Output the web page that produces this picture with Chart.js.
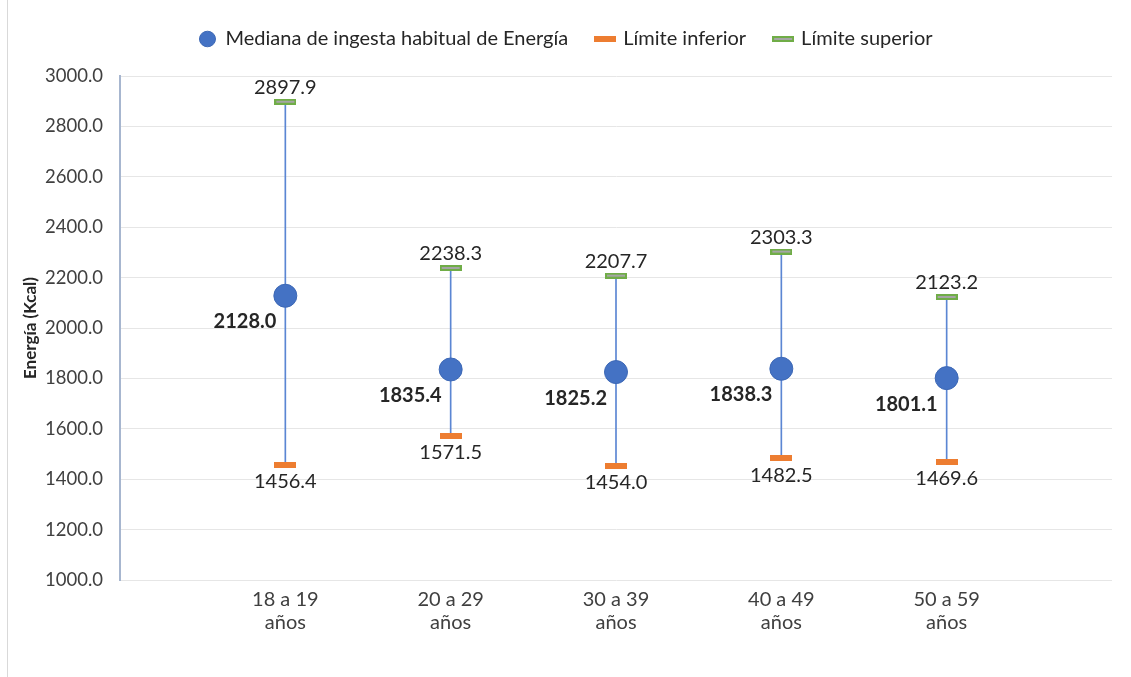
<!DOCTYPE html>
<html>
<head>
<meta charset="utf-8">
<script src="https://cdn.jsdelivr.net/npm/chart.js@4/dist/chart.umd.min.js"></script>
<style>
  html, body { margin: 0; padding: 0; background: #fff; }
  #wrap { position: relative; width: 1131px; height: 677px; }
  #edge { position: absolute; left: 7px; top: 0; width: 1px; height: 677px; background: #d9d9d9; }
</style>
</head>
<body>
<div id="wrap">
  <div id="edge"></div>
  <canvas id="energyChart" width="1131" height="677"></canvas>
</div>
<script>
// Datos
const grupos = [['18 a 19', 'años'], ['20 a 29', 'años'], ['30 a 39', 'años'], ['40 a 49', 'años'], ['50 a 59', 'años']];
const mediana = [2128.0, 1835.4, 1825.2, 1838.3, 1801.1];
const limiteInferior = [1456.4, 1571.5, 1454.0, 1482.5, 1469.6];
const limiteSuperior = [2897.9, 2238.3, 2207.7, 2303.3, 2123.2];
const ticksY = [1000, 1200, 1400, 1600, 1800, 2000, 2200, 2400, 2600, 2800, 3000];

const FONT = 'Lato, "Open Sans", sans-serif';

// etiquetas con un hueco a cada lado (el eje va de 0 a 6)
const etiquetas = [''].concat(grupos, ['']);
const pad = arr => [null].concat(arr, [null]);

// marcador de guion (rectángulo horizontal)
function guion(fill, stroke) {
    const c = document.createElement('canvas');
    c.width = 22; c.height = 6;
    const g = c.getContext('2d');
    g.fillStyle = stroke;
    g.fillRect(0, 0, 22, 6);
    g.fillStyle = fill;
    g.fillRect(2, 2, 18, 2);
    return c;
}
const guionNaranja = guion('#ED7D31', '#ED7D31');
const guionVerde = guion('#a5a5a5', '#70AD47');

// Más espacio debajo de la leyenda
const espacioLeyenda = {
    id: 'espacioLeyenda',
    beforeInit(chart) {
        const fitOrig = chart.legend.fit;
        chart.legend.fit = function () {
            fitOrig.bind(chart.legend)();
            this.height += 17;
        };
    }
};

// Plugin para las etiquetas de datos
const etiquetasDatos = {
    id: 'etiquetasDatos',
    afterDatasetsDraw(chart) {
        const ctx = chart.ctx;
        ctx.save();
        ctx.fillStyle = '#262626';
        ctx.textBaseline = 'middle';
        chart.data.datasets.forEach((ds, i) => {
            if (!ds.tipo) return;
            const meta = chart.getDatasetMeta(i);
            meta.data.forEach((pt, j) => {
                const v = ds.data[j];
                if (v == null) return;
                const txt = v.toFixed(1);
                if (ds.tipo === 'med') {
                    ctx.font = 'bold 20px ' + FONT;
                    ctx.textAlign = 'right';
                    ctx.fillText(txt, pt.x - 9, pt.y + 26);
                } else if (ds.tipo === 'inf') {
                    ctx.font = '20px ' + FONT;
                    ctx.textAlign = 'center';
                    ctx.fillText(txt, pt.x, pt.y + 17);
                } else {
                    ctx.font = '20px ' + FONT;
                    ctx.textAlign = 'center';
                    ctx.fillText(txt, pt.x, pt.y - 14);
                }
            });
        });
        ctx.restore();
    }
};

const ctx = document.getElementById('energyChart').getContext('2d');

new Chart(ctx, {
    type: 'line',
    data: {
        labels: etiquetas,
        datasets: [
            {
                label: 'Mediana de ingesta habitual de Energía',
                tipo: 'med',
                data: pad(mediana),
                showLine: false,
                pointStyle: 'circle',
                pointRadius: 11.5,
                pointBackgroundColor: '#4472C4',
                pointBorderColor: '#3d68b5',
                pointBorderWidth: 1,
                backgroundColor: '#4472C4',
                borderColor: '#4472C4',
                order: 0
            },
            {
                label: 'Límite inferior',
                tipo: 'inf',
                data: pad(limiteInferior),
                showLine: false,
                pointStyle: guionNaranja,
                backgroundColor: '#ED7D31',
                borderColor: '#ED7D31',
                order: 1
            },
            {
                label: 'Límite superior',
                tipo: 'sup',
                data: pad(limiteSuperior),
                showLine: false,
                pointStyle: guionVerde,
                backgroundColor: '#70AD47',
                borderColor: '#70AD47',
                order: 2
            },
            {
                // línea vertical entre límites
                type: 'bar',
                label: 'rango',
                data: pad(limiteInferior.map((lo, i) => [lo, limiteSuperior[i]])),
                backgroundColor: '#5b86d3',
                barThickness: 1,
                order: 3
            }
        ]
    },
    options: {
        responsive: false,
        animation: false,
        layout: { padding: { left: 20, right: 19, top: 0, bottom: 43 } },
        plugins: {
            legend: {
                position: 'top',
                labels: {
                    usePointStyle: true,
                    boxHeight: 11,
                    pointStyleWidth: 16,
                    color: '#262626',
                    font: { family: FONT, size: 20 },
                    padding: 29,
                    filter: item => item.text !== 'rango'
                }
            },
            tooltip: { enabled: false }
        },
        scales: {
            x: {
                offset: false,
                grid: { display: false },
                border: { display: false },
                ticks: {
                    autoSkip: false,
                    maxRotation: 0,
                    color: '#404040',
                    font: { family: FONT, size: 20, lineHeight: 1.15 },
                    padding: 0
                }
            },
            y: {
                min: 1000,
                max: 3000,
                afterBuildTicks: axis => { axis.ticks = ticksY.map(v => ({ value: v })); },
                afterFit: axis => { axis.width = 100; },
                ticks: {
                    color: '#404040',
                    font: { family: FONT, size: 18.5 },
                    padding: 17,
                    callback: v => Number(v).toFixed(1)
                },
                grid: { color: '#e6e6e6', drawTicks: false },
                border: { color: '#a7b6cf', width: 2 },
                title: {
                    display: true,
                    text: 'Energía (Kcal)',
                    color: '#262626',
                    padding: { top: 0, bottom: 0 },
                    font: { family: FONT, size: 17, weight: 'bold' }
                }
            }
        }
    },
    plugins: [espacioLeyenda, etiquetasDatos]
});
</script>
</body>
</html>
